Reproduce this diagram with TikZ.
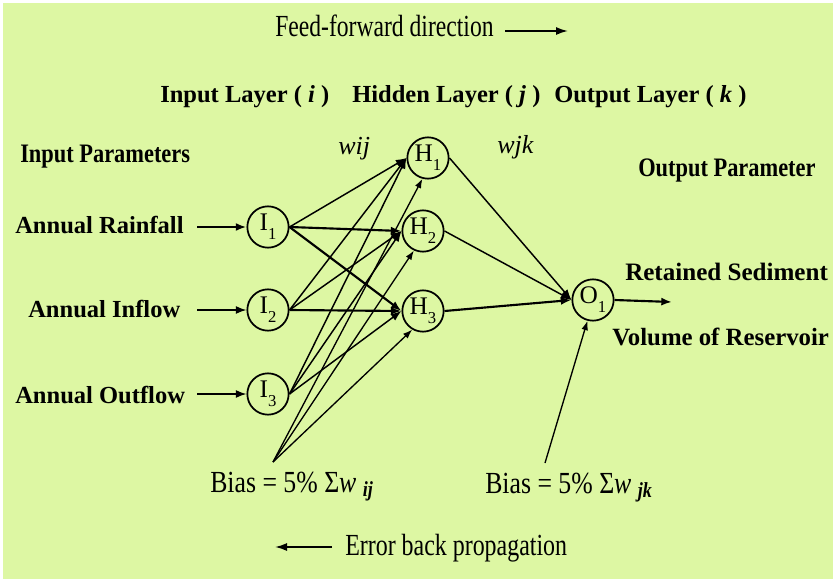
\documentclass[tikz,border=0pt]{standalone}
\usepackage{fontspec}
\setmainfont{Liberation Serif}
\usetikzlibrary{arrows.meta}
\definecolor{bg}{RGB}{221,247,163}
\newcommand{\fs}[1]{\fontsize{#1}{#1}\selectfont}
\newcommand{\cx}[2]{\scalebox{#1}[1]{#2}}
\newcommand{\nsub}[1]{\raisebox{-0.35em}{\fs{12.5pt}#1}}
\begin{document}
\begin{tikzpicture}[x=0.75pt,y=-0.75pt,
  neuron/.style={draw,circle,line width=1.3pt,minimum size=31pt,inner sep=0pt,font=\fs{19pt}},
  conn/.style={line width=1.1pt,-{Latex[length=8pt,width=6pt]}},
  thick conn/.style={line width=1.6pt,-{Latex[length=8pt,width=6pt]}},
  biasl/.style={line width=1pt,-{Latex[length=7pt,width=5pt]}},
  lbl/.style={anchor=base west,inner sep=0pt,font=\fs{18.4pt}\bfseries},
  reg/.style={anchor=base west,inner sep=0pt,font=\fs{23pt}},
]
\fill[white] (0,0) rectangle (833,579);
\fill[bg] (3,3) rectangle (833,579);
\useasboundingbox (0,0) rectangle (833,579);

% titles
\node[reg] (ff) at (275,36) {\cx{0.77}{Feed-forward direction}};
\coordinate (ffa) at (505,31);
\coordinate (ffb) at (568,31);
\draw[line width=1.3pt,-{Latex[length=9pt,width=6pt]}] (ffa) -- (ffb);

\node[lbl] (il) at (160,102) {Input Layer ( \textit{i} )};
\node[lbl] (hl) at (352,102) {Hidden Layer ( \textit{j} )};
\node[lbl] (ol) at (554,102) {Output Layer ( \textit{k} )};

\node[anchor=base west,inner sep=0pt,font=\fs{20pt}\bfseries] (ip) at (20,162) {\cx{0.84}{Input Parameters}};
\node[anchor=base west,inner sep=0pt,font=\fs{20pt}\bfseries] (op) at (638,176) {\cx{0.84}{Output Parameter}};

\node[anchor=base west,inner sep=0pt,font=\fs{19.5pt}\itshape] (wij) at (338,154) {wij};
\node[anchor=base west,inner sep=0pt,font=\fs{19.5pt}\itshape] (wjk) at (497,153) {wjk};

% input labels
\node[lbl] (r1) at (15,233) {Annual Rainfall};
\node[lbl] (r2) at (28,317) {Annual Inflow};
\node[lbl] (r3) at (15,403) {Annual Outflow};

% neurons
\node[neuron] (I1) at (268,227) {I\nsub{1}};
\node[neuron] (I2) at (268,310) {I\nsub{2}};
\node[neuron] (I3) at (268,394) {I\nsub{3}};
\node[neuron] (H1) at (428,158) {H\nsub{1}};
\node[neuron] (H2) at (423,231) {H\nsub{2}};
\node[neuron] (H3) at (423,311) {H\nsub{3}};
\node[neuron] (O1) at (593,300) {O\nsub{1}};

% input arrows
\coordinate (a1) at (197,227);
\coordinate (a2) at (197,310);
\coordinate (a3) at (197,394);
\draw[thick conn] (a1) -- (I1);
\draw[conn] (a2) -- (I2);
\draw[conn] (a3) -- (I3);

% input -> hidden
\draw[conn] (I1.east) -- (H1.west);
\draw[thick conn] (I1.east) -- (H2.west);
\draw[thick conn] (I1.east) -- (H3.west);
\draw[conn] (I2.east) -- (H1.west);
\draw[conn] (I2.east) -- (H2.west);
\draw[thick conn] (I2.east) -- (H3.west);
\draw[conn] (I3.east) -- (H1.west);
\draw[conn] (I3.east) -- (H2.west);
\draw[conn] (I3.east) -- (H3.west);

% hidden -> output
\draw[conn] (H1.east) -- (O1.west);
\draw[conn] (H2.east) -- (O1.west);
\draw[thick conn] (H3.east) -- (O1.west);

% output arrow
\coordinate (out) at (672,302);
\draw[thick conn] (O1.east) -- (out);

\node[lbl,font=\fs{18.8pt}\bfseries] (rs) at (625,280) {Retained Sediment};
\node[lbl,font=\fs{18.6pt}\bfseries] (vr) at (612,345) {Volume of Reservoir};

% bias ij
\coordinate (bij) at (273,462);
\draw[biasl] (bij) -- (H1.255);
\draw[biasl] (bij) -- (H2.245);
\draw[biasl] (bij) -- (H3.240);
\node[reg] (bt1) at (210,492) {\cx{0.84}{Bias = 5\% Σ\textit{w} \textsubscript{\textbf{\textit{ij}}}}};

% bias jk
\coordinate (bjk) at (545,463);
\draw[biasl] (bjk) -- (O1.255);
\node[reg] (bt2) at (485,493) {\cx{0.84}{Bias = 5\% Σ\textit{w} \textsubscript{\textbf{\textit{jk}}}}};

% error back propagation
\coordinate (eba) at (332,547);
\coordinate (ebb) at (275,547);
\draw[line width=1.3pt,-{Latex[length=9pt,width=6pt]}] (eba) -- (ebb);
\node[reg] (ebp) at (345,555) {\cx{0.78}{Error back propagation}};
\end{tikzpicture}
\end{document}
